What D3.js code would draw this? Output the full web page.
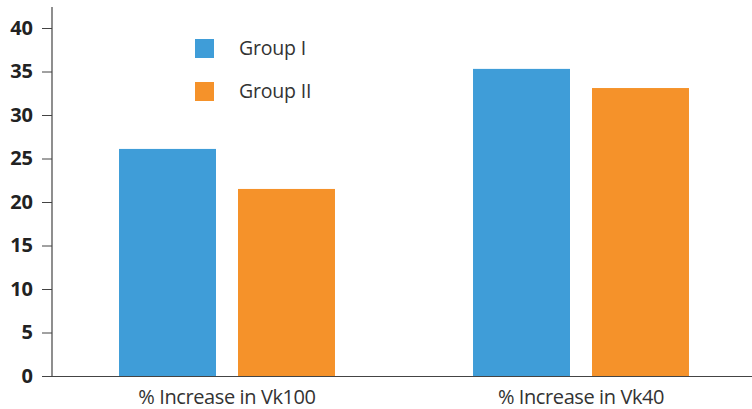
<!DOCTYPE html>
<html>
<meta charset="utf-8">
<style>
body { margin: 0; background: #fff; }
.tick text { font-family: "Open Sans", sans-serif; font-weight: bold; font-size: 20px; fill: #222; }
.cat text { font-family: "Open Sans", sans-serif; font-size: 20px; letter-spacing: -0.4px; fill: #333; }
.legend text { font-family: "Open Sans", sans-serif; font-size: 19.5px; letter-spacing: -0.2px; fill: #333; }
</style>
<body>
<svg width="752" height="409"></svg>
<script src="https://cdn.jsdelivr.net/npm/d3@7"></script>
<script>
var categories = ["% Increase in Vk100", "% Increase in Vk40"];
var groups = ["Group I", "Group II"];
var groupI = [26.1, 35.3];
var groupII = [21.5, 33.1];
var yTicks = [0, 5, 10, 15, 20, 25, 30, 35, 40];
var colors = ["#3f9dd8", "#f5922a"];

var svg = d3.select("svg");

var x0 = d3.scaleBand()
    .domain(categories)
    .range([50, 758]);

var x1 = d3.scaleBand()
    .domain(groups)
    .range([0, x0.bandwidth()])
    .paddingInner(0.185)
    .paddingOuter(0.58);

var y = d3.scaleLinear()
    .domain([0, 40])
    .range([376, 28]);

var series = [groupI, groupII];

categories.forEach(function(c, i) {
  svg.append("g")
      .attr("transform", "translate(" + x0(c) + ",0)")
    .selectAll("rect")
      .data(groups)
    .enter().append("rect")
      .attr("x", function(g) { return x1(g); })
      .attr("width", x1.bandwidth())
      .attr("y", function(g, j) { return y(series[j][i]); })
      .attr("height", function(g, j) { return y(0) - y(series[j][i]); })
      .attr("fill", function(g, j) { return colors[j]; });
});

// y axis
var yAxis = svg.append("g")
    .attr("transform", "translate(52,0)")
    .call(d3.axisLeft(y).tickValues(yTicks).tickSize(10).tickPadding(9));
yAxis.select(".domain").remove();
yAxis.selectAll(".tick line").attr("stroke", "#444");
svg.append("line")
    .attr("x1", 52).attr("x2", 52)
    .attr("y1", 7).attr("y2", 376.5)
    .attr("stroke", "#444").attr("stroke-width", 1.2);

// x axis baseline
svg.append("line")
    .attr("x1", 52).attr("x2", 752)
    .attr("y1", 376.5).attr("y2", 376.5)
    .attr("stroke", "#444").attr("stroke-width", 1.2);

svg.append("g").attr("class", "cat")
  .selectAll("text")
    .data(categories)
  .enter().append("text")
    .attr("x", function(d) { return x0(d) + x0.bandwidth() / 2; })
    .attr("y", 404)
    .attr("text-anchor", "middle")
    .text(function(d) { return d; });

// legend
var legend = svg.append("g").attr("class", "legend")
  .selectAll("g")
    .data(groups)
  .enter().append("g")
    .attr("transform", function(d, i) { return "translate(195," + (39 + i * 43) + ")"; });
legend.append("rect")
    .attr("width", 19).attr("height", 19)
    .attr("fill", function(d, i) { return colors[i]; });
legend.append("text")
    .attr("x", 44).attr("y", 16)
    .text(function(d) { return d; });
</script>
</body>
</html>
